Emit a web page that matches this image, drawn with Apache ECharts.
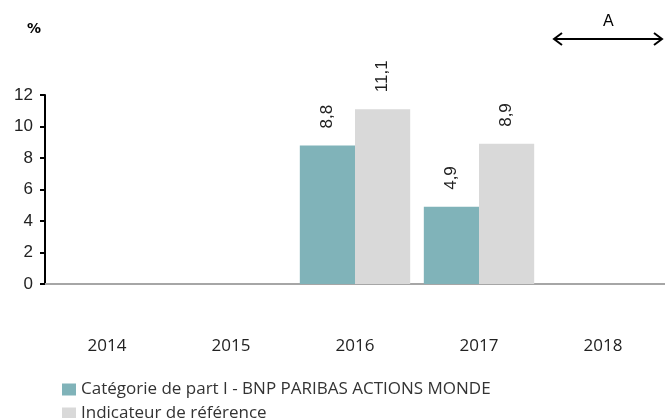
<!DOCTYPE html>
<html>
<head>
<meta charset="utf-8">
<script src="https://cdn.jsdelivr.net/npm/echarts@6/dist/echarts.min.js"></script>
<style>
  html, body { margin: 0; padding: 0; background: #fff; }
  #main { width: 665px; height: 418px; }
</style>
</head>
<body>
<div id="main"></div>
<script>
var years = ['2014', '2015', '2016', '2017', '2018'];
var partValues = [null, null, 8.8, 4.9, null];
var refValues = [null, null, 11.1, 8.9, null];
var seriesNames = ['Catégorie de part I - BNP PARIBAS ACTIONS MONDE', 'Indicateur de référence'];

var chart = echarts.init(document.getElementById('main'));

var valueLabel = {
  show: true,
  position: 'top',
  distance: 17,
  rotate: 90,
  align: 'left',
  verticalAlign: 'middle',
  fontFamily: 'Liberation Sans, Arial, sans-serif',
  fontSize: 17,
  color: '#222',
  formatter: function (p) {
    return String(p.value).replace('.', ',');
  }
};

var legendText = { fontFamily: 'Open Sans, sans-serif', fontSize: 17, lineHeight: 17, color: '#333' };

chart.setOption({
  animation: false,
  grid: { left: 45, right: 0, top: 95, bottom: 134 },
  legend: [
    { left: 57, top: 376, itemWidth: 14, itemHeight: 12, icon: 'rect', textStyle: legendText, data: [seriesNames[0]] },
    { left: 57, top: 400, itemWidth: 14, itemHeight: 12, icon: 'rect', textStyle: legendText, data: [seriesNames[1]] }
  ],
  xAxis: {
    type: 'category',
    data: years,
    axisLine: { lineStyle: { color: '#a6a6a6', width: 2 } },
    axisTick: { show: false },
    axisLabel: { margin: 54, fontFamily: 'Open Sans, sans-serif', fontSize: 17, color: '#222' }
  },
  yAxis: {
    type: 'value',
    min: 0,
    max: 12,
    interval: 2,
    splitLine: { show: false },
    axisLine: { show: true, lineStyle: { color: '#000', width: 2 } },
    axisTick: { show: true, length: 5, lineStyle: { color: '#000', width: 2 } },
    axisLabel: { margin: 12, fontFamily: 'Liberation Sans, Arial, sans-serif', fontSize: 17, color: '#222' }
  },
  series: [
    {
      name: seriesNames[0],
      type: 'bar',
      data: partValues,
      barGap: 0,
      barCategoryGap: '11%',
      itemStyle: { color: '#80b3b9' },
      label: valueLabel
    },
    {
      name: seriesNames[1],
      type: 'bar',
      data: refValues,
      itemStyle: { color: '#d9d9d9' },
      label: valueLabel
    }
  ],
  graphic: [
    { type: 'text', left: 27, top: 22, style: { text: '%', fontFamily: 'DejaVu Sans, sans-serif', fontSize: 14, fontWeight: 'bold', fill: '#000' } },
    { type: 'text', left: 603, top: 14, style: { text: 'A', fontFamily: 'Liberation Sans, Arial, sans-serif', fontSize: 16, fill: '#000' } },
    { type: 'line', shape: { x1: 554, y1: 39, x2: 662, y2: 39 }, style: { stroke: '#000', lineWidth: 2 } },
    { type: 'polyline', shape: { points: [[562, 33], [554, 39], [562, 45]] }, style: { stroke: '#000', lineWidth: 2, fill: null } },
    { type: 'polyline', shape: { points: [[654, 33], [662, 39], [654, 45]] }, style: { stroke: '#000', lineWidth: 2, fill: null } }
  ]
});
</script>
</body>
</html>
